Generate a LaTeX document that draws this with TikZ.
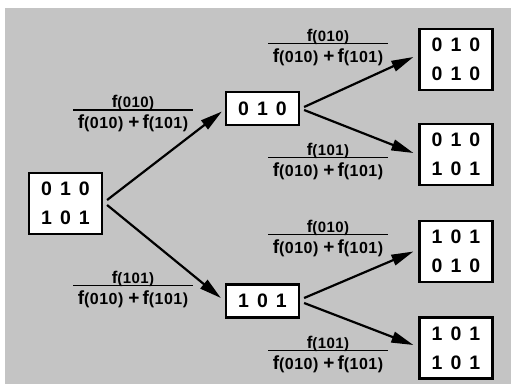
\documentclass[tikz,border=0pt]{standalone}
\usepackage{fontspec}
\setmainfont{Liberation Sans}
\usetikzlibrary{arrows.meta}

\definecolor{paper}{RGB}{196,196,196}

% f(xyz): a tall f with a smaller, loosely spaced argument
\newcommand\fval[3]{{\fontsize{#1}{#1}\selectfont f}%
  {\fontsize{#2}{#2}\selectfont\addfontfeature{LetterSpace=3}(#3)}}
% probability label: f(numerator) over f(010) + f(101)
\newcommand\problabel[1]{\vbox{\bfseries
  \hbox to 120pt{\hss\raisebox{0pt}[12pt][0pt]{\fval{17}{15}{#1}}\hss}%
  \kern1.85pt\hrule height 1.3pt\kern7.85pt
  \hbox to 120pt{\hss\raisebox{0pt}[10pt][0pt]{\fval{19}{16}{010}\hspace{5pt}%
    {\fontsize{19}{19}\selectfont+}\hspace{3pt}\fval{19}{16}{101}}\hss}}}
% a row of three spaced digits
\newcommand\digrow[3]{#1\kern8pt#2\kern8pt#3}

\tikzset{
  state/.style={draw, line width=2.2pt, fill=white, inner sep=0pt, align=center,
    font=\fontsize{19.5}{29}\selectfont\bfseries},
  pair/.style={state, minimum width=73pt, minimum height=61pt},
  single/.style={state, minimum width=73pt, minimum height=33pt},
  prob/.style={inner sep=0pt},
  branch/.style={line width=2.2pt, -{Triangle[length=22pt,width=11pt]}},
}

\begin{document}
\begin{tikzpicture}[x=1pt,y=-1pt]
  \useasboundingbox (0,0) rectangle (511,386);
  \fill[paper] (5,8) rectangle (511,384);

  % states
  \node[pair]   (root) at (65.5,203.5) {\digrow010\\\digrow101};
  \node[single] (a)    at (262.5,108.5) {\digrow010};
  \node[single] (b)    at (262.5,301)   {\digrow101};
  \node[pair]   (aa)   at (456,59.5)  {\digrow010\\\digrow010};
  \node[pair]   (ab)   at (456,154.5) {\digrow010\\\digrow101};
  \node[pair]   (ba)   at (456,251.5) {\digrow101\\\digrow010};
  \node[pair]   (bb)   at (456,348)   {\digrow101\\\digrow101};

  % transitions
  \draw[branch] ([shift={(4,-3.5)}]root.east) -- ([shift={(-3,3)}]a.west);
  \draw[branch] ([shift={(4,1.5)}]root.east)  -- ([shift={(-4,-3)}]b.west);
  \draw[branch] ([shift={(4,-1.5)}]a.east) -- ([shift={(-5,-2.5)}]aa.west);
  \draw[branch] ([shift={(4,1.5)}]a.east)  -- ([shift={(-5,-1.5)}]ab.west);
  \draw[branch] ([shift={(4,-3)}]b.east) -- ([shift={(-5,0)}]ba.west);
  \draw[branch] ([shift={(4,2)}]b.east)  -- ([shift={(-5,-3)}]bb.west);

  % transition probabilities (node centre sits 2pt below the fraction bar)
  \node[prob] (pa)  at (133,112)   {\problabel{010}};
  \node[prob] (pb)  at (133,287.5) {\problabel{101}};
  \node[prob] (paa) at (328,45.5)  {\problabel{010}};
  \node[prob] (pab) at (328,159.5) {\problabel{101}};
  \node[prob] (pba) at (328,236.5) {\problabel{010}};
  \node[prob] (pbb) at (328,352.5) {\problabel{101}};
\end{tikzpicture}
\end{document}
